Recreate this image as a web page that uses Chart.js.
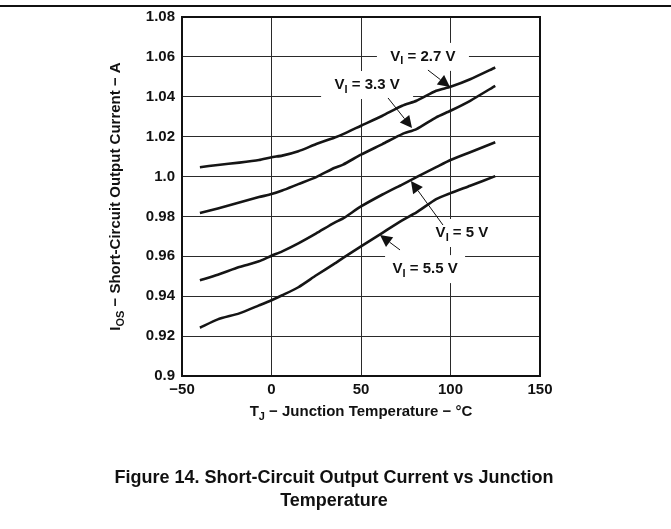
<!DOCTYPE html>
<html>
<head>
<meta charset="utf-8">
<script src="https://cdn.jsdelivr.net/npm/chart.js@4/dist/chart.umd.min.js"></script>
<style>
  html, body { margin: 0; padding: 0; background: #fff; }
  #wrap { width: 671px; height: 529px; position: relative; }
</style>
</head>
<body>
<div id="wrap"><canvas id="c" width="671" height="529"></canvas></div>
<script>
// ---- data ----
const temps = [-40, -30, -18, -7, 0, 6, 15, 25, 35, 40, 50, 62, 73, 81, 92, 100, 111, 125];
const v27 = [1.0047, 1.0058, 1.0070, 1.0083, 1.0097, 1.0105, 1.0127, 1.0163, 1.0195, 1.0213, 1.0255, 1.0305, 1.0355, 1.0380, 1.0430, 1.0450, 1.0488, 1.0547];
const v33 = [0.9817, 0.9840, 0.9870, 0.9897, 0.9912, 0.9930, 0.9962, 0.9997, 1.0043, 1.0060, 1.0110, 1.0163, 1.0213, 1.0238, 1.0297, 1.0330, 1.0380, 1.0455];
const v50 = [0.9480, 0.9508, 0.9546, 0.9575, 0.9603, 0.9625, 0.9665, 0.9715, 0.9768, 0.9790, 0.9850, 0.9910, 0.9960, 0.9997, 1.0047, 1.0083, 1.0122, 1.0172];
const v55 = [0.9242, 0.9284, 0.9314, 0.9354, 0.9380, 0.9405, 0.9445, 0.9505, 0.9562, 0.9592, 0.9650, 0.9718, 0.9780, 0.9820, 0.9887, 0.9917, 0.9954, 1.0002];
const seriesNames = ['2.7', '3.3', '5', '5.5'];
const xTicks = [-50, 0, 50, 100, 150];
const xTickLabels = ['\u221250', '0', '50', '100', '150'];
const yTicks = [0.9, 0.92, 0.94, 0.96, 0.98, 1.0, 1.02, 1.04, 1.06, 1.08];
const yTickLabels = ['0.9', '0.92', '0.94', '0.96', '0.98', '1.0', '1.02', '1.04', '1.06', '1.08'];

const FONT = "'Liberation Sans', Arial, Helvetica, sans-serif";

function mk(vals) {
  return temps.map((t, i) => ({ x: t, y: vals[i] }));
}

// label annotations in data units: [series index, label cx, cy, tail x, tail y, tip x, tip y, box half-width]
const notes = [
  [0, 84.6, 1.0600, 87.4, 1.0534, 99.7, 1.0449, 46],
  [1, 53.4, 1.0459, 65.1, 1.0394, 78.5, 1.0243, 46],
  [2, 106.4, 0.9717, 95.8, 0.9757, 77.9, 0.9978, 40],
  [3, 85.8, 0.9536, 71.8, 0.9632, 60.6, 0.9707, 40]
];

function drawSub(ctx, parts, x, y, size, align) {
  const big = 'bold ' + size + 'px ' + FONT;
  const small = 'bold ' + Math.round(size * 0.72) + 'px ' + FONT;
  let total = 0;
  parts.forEach(p => { ctx.font = p[1] ? small : big; total += ctx.measureText(p[0]).width; });
  let sx = align === 'center' ? x - total / 2 : x;
  ctx.textAlign = 'left';
  ctx.textBaseline = 'middle';
  parts.forEach(p => {
    ctx.font = p[1] ? small : big;
    ctx.fillText(p[0], sx, p[1] ? y + size * 0.3 : y);
    sx += ctx.measureText(p[0]).width;
  });
  return total;
}

const deco = {
  id: 'deco',
  beforeDatasetsDraw(chart) {
    const ctx = chart.ctx;
    const xs = chart.scales.x, ys = chart.scales.y;
    ctx.save();
    ctx.fillStyle = '#fff';
    notes.forEach(n => {
      const cx = xs.getPixelForValue(n[1]);
      const cy = ys.getPixelForValue(n[2]);
      ctx.fillRect(cx - n[7], cy - 14, n[7] * 2, 28);
    });
    ctx.restore();
  },
  afterDatasetsDraw(chart) {
    const ctx = chart.ctx;
    const xs = chart.scales.x, ys = chart.scales.y;
    const a = chart.chartArea;
    ctx.save();
    ctx.fillStyle = '#111';
    ctx.strokeStyle = '#111';
    notes.forEach(n => {
      const cx = xs.getPixelForValue(n[1]);
      const cy = ys.getPixelForValue(n[2]);
      drawSub(ctx, [['V', false], ['I', true], [' = ' + seriesNames[n[0]] + ' V', false]], cx, cy, 15, 'center');
      const tx = xs.getPixelForValue(n[3]), ty = ys.getPixelForValue(n[4]);
      const px = xs.getPixelForValue(n[5]), py = ys.getPixelForValue(n[6]);
      const ang = Math.atan2(py - ty, px - tx);
      const L = 12, W = 6;
      const bx = px - L * Math.cos(ang), by = py - L * Math.sin(ang);
      ctx.lineWidth = 1;
      ctx.beginPath(); ctx.moveTo(tx, ty); ctx.lineTo(bx, by); ctx.stroke();
      ctx.beginPath();
      ctx.moveTo(px, py);
      ctx.lineTo(bx + W * Math.sin(ang), by - W * Math.cos(ang));
      ctx.lineTo(bx - W * Math.sin(ang), by + W * Math.cos(ang));
      ctx.closePath(); ctx.fill();
    });
    // frame
    ctx.lineWidth = 2;
    ctx.strokeStyle = '#111';
    ctx.strokeRect(a.left, a.top, a.right - a.left, a.bottom - a.top);
    // top rule
    ctx.beginPath(); ctx.moveTo(0, 6); ctx.lineTo(671, 6); ctx.stroke();
    // x title
    ctx.fillStyle = '#111';
    drawSub(ctx, [['T', false], ['J', true], [' \u2212 Junction Temperature \u2212 \u00B0C', false]], (a.left + a.right) / 2, 412, 15, 'center');
    // y title
    ctx.save();
    ctx.translate(116, (a.top + a.bottom) / 2);
    ctx.rotate(-Math.PI / 2);
    drawSub(ctx, [['I', false], ['OS', true], [' \u2212 Short-Circuit Output Current \u2212 A', false]], 0, 0, 15, 'center');
    ctx.restore();
    // caption
    ctx.font = 'bold 18px ' + FONT;
    ctx.textAlign = 'center';
    ctx.textBaseline = 'middle';
    ctx.fillText('Figure 14. Short-Circuit Output Current vs Junction', 334, 478);
    ctx.fillText('Temperature', 334, 501);
    ctx.restore();
  }
};

const lineStyle = { borderColor: '#151515', borderWidth: 2.6, pointRadius: 0, fill: false, tension: 0.2 };

new Chart(document.getElementById('c'), {
  type: 'line',
  data: {
    datasets: [
      Object.assign({ label: 'VI = 2.7 V', data: mk(v27) }, lineStyle),
      Object.assign({ label: 'VI = 3.3 V', data: mk(v33) }, lineStyle),
      Object.assign({ label: 'VI = 5 V', data: mk(v50) }, lineStyle),
      Object.assign({ label: 'VI = 5.5 V', data: mk(v55) }, lineStyle)
    ]
  },
  options: {
    responsive: false,
    animation: false,
    layout: { padding: { left: 0, right: 131, top: 17, bottom: 0 } },
    plugins: { legend: { display: false }, tooltip: { enabled: false } },
    scales: {
      x: {
        type: 'linear', min: -50, max: 150,
        afterBuildTicks: s => { s.ticks = xTicks.map(v => ({ value: v })); },
        afterFit: s => { s.height = 529 - 376; },
        ticks: {
          callback: (v, i) => xTickLabels[i],
          font: { family: FONT, size: 15, weight: 'bold' },
          color: '#111', padding: 5, maxRotation: 0
        },
        grid: { color: '#2a2a2a', lineWidth: 1, drawTicks: false },
        border: { display: false }
      },
      y: {
        type: 'linear', min: 0.9, max: 1.08,
        afterBuildTicks: s => { s.ticks = yTicks.map(v => ({ value: v })); },
        afterFit: s => { s.width = 182; },
        ticks: {
          callback: (v, i) => yTickLabels[i],
          font: { family: FONT, size: 15, weight: 'bold' },
          color: '#111', padding: 7
        },
        grid: { color: '#2a2a2a', lineWidth: 1, drawTicks: false },
        border: { display: false }
      }
    }
  },
  plugins: [deco]
});
</script>
</body>
</html>
